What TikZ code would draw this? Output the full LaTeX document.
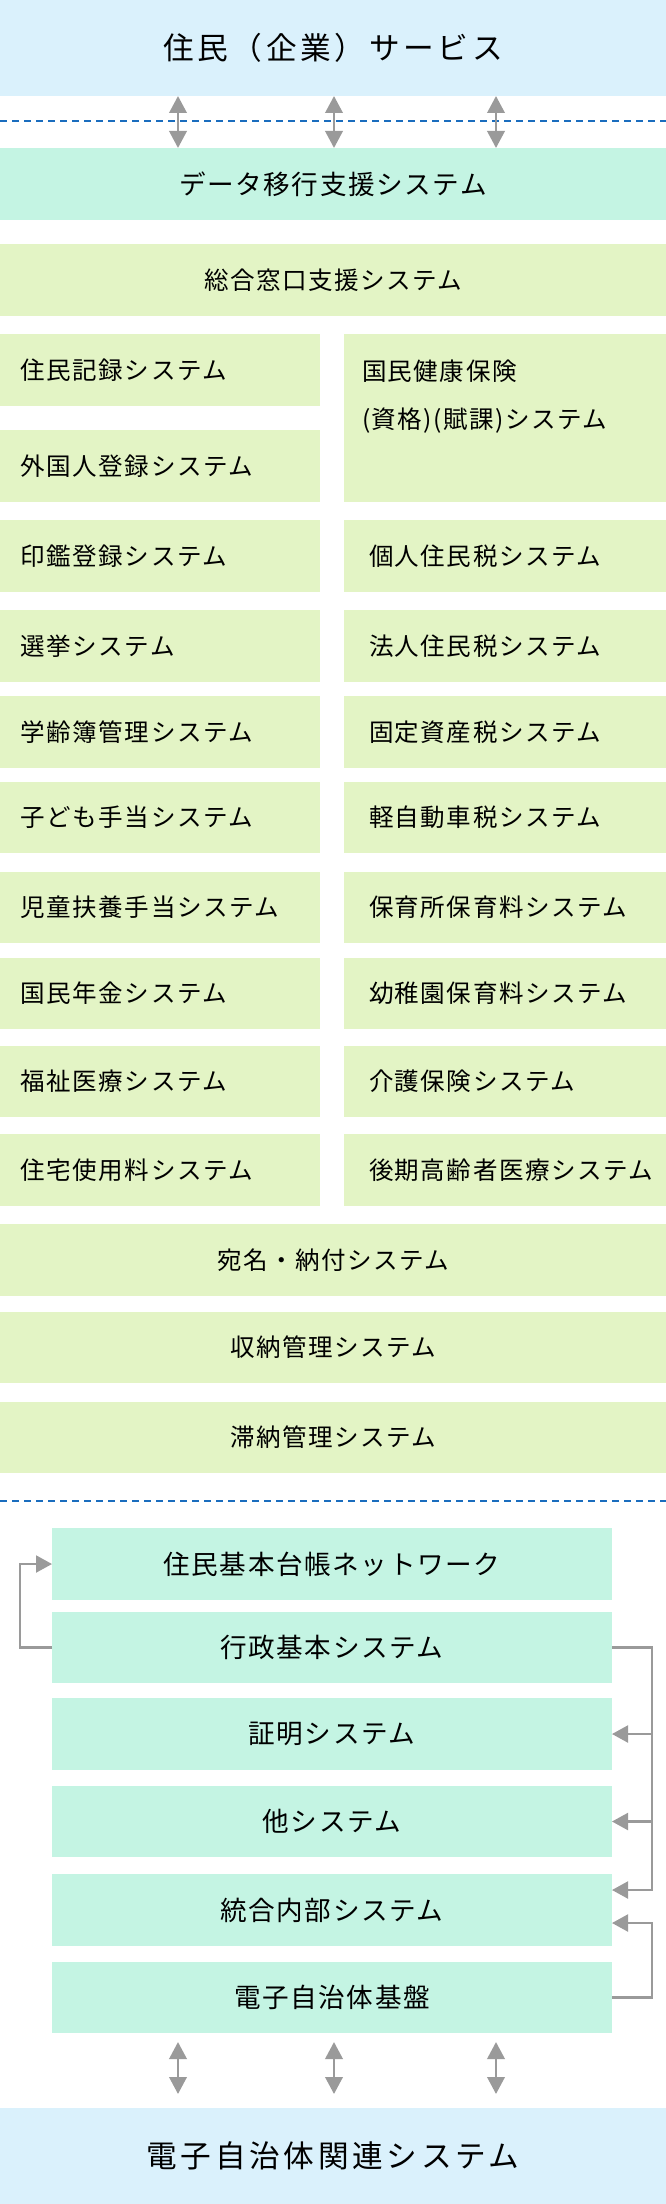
\documentclass[tikz,border=0pt]{standalone}
\usepackage{fontspec}
\setmainfont{Noto Sans CJK JP}
\usetikzlibrary{arrows.meta,calc}
\definecolor{skyblue}{HTML}{DAF1FC}
\definecolor{mint}{HTML}{C4F4E3}
\definecolor{lgreen}{HTML}{E3F4C5}
\definecolor{arrowgray}{HTML}{9A9A9A}
\definecolor{dashblue}{HTML}{1A6DBE}
\newcommand{\pxu}{0.75pt}
\newcommand{\tfont}{\fontsize{23pt}{27pt}\selectfont\addfontfeatures{LetterSpace=12}}
\newcommand{\gfont}{\fontsize{18.4pt}{36pt}\selectfont\addfontfeatures{LetterSpace=6}}
\newcommand{\mfont}{\fontsize{19.95pt}{24pt}\selectfont\addfontfeatures{LetterSpace=6}}
\begin{document}
\begin{tikzpicture}[x=0.75pt,y=-0.75pt,
  base/.style={inner sep=0pt, outer sep=0pt, anchor=north west, text=black},
  titlebox/.style={base, fill=skyblue, minimum width=666*\pxu, minimum height=96*\pxu, font=\tfont},
  databox/.style={base, fill=mint, minimum width=666*\pxu, minimum height=72*\pxu, font=\mfont},
  widebox/.style={base, fill=lgreen, minimum width=666*\pxu, minimum height=72*\pxu, font=\gfont},
  lbox/.style={base, fill=lgreen, minimum width=320*\pxu, minimum height=72*\pxu, text width=278*\pxu, inner xsep=21*\pxu, align=left, font=\gfont},
  rbox/.style={base, fill=lgreen, minimum width=322*\pxu, minimum height=72*\pxu, text width=272*\pxu, inner xsep=25*\pxu, align=left, font=\gfont},
  mbox/.style={base, fill=mint, minimum width=560*\pxu, minimum height=72*\pxu, font=\mfont},
  txt/.style={inner sep=0pt, outer sep=0pt, text=black},
  dbl/.style={draw=arrowgray, line width=2pt, {Triangle[length=12.75pt,width=13pt]}-{Triangle[length=12.75pt,width=13pt]}},
  conn/.style={draw=arrowgray, line width=1.6pt, -{Triangle[length=12pt,width=12.75pt]}},
  sep/.style={draw=dashblue, line width=1.5pt, dash pattern=on 5.25pt off 3.75pt}
]
\useasboundingbox (0,0) rectangle (666,2204);

% top
\node[titlebox] (top) at (0,0) {住民（企業）サービス};
\draw[sep] (0,121) -- (666,121);
\node[databox] (data) at (0,148) {データ移行支援システム};

\coordinate (a1) at (178,0);
\coordinate (a2) at (334,0);
\coordinate (a3) at (496,0);
\draw[dbl] (top.south -| a1) -- (data.north -| a1);
\draw[dbl] (top.south -| a2) -- (data.north -| a2);
\draw[dbl] (top.south -| a3) -- (data.north -| a3);

\node[widebox] (sogo) at (0,244) {総合窓口支援システム};

% two columns
\node[lbox] (jk) at (0,334) {住民記録システム};
\node[lbox] (gk) at (0,430) {外国人登録システム};
\node[base, fill=lgreen, minimum width=322*\pxu, minimum height=168*\pxu] (kh) at (344,334) {};
\node[txt, anchor=north west, align=left, font=\gfont] (kht) at (362,359.5) {国民健康保険\\(資格)(賦課)システム};

\node[lbox] (inkan) at (0,520) {印鑑登録システム};
\node[rbox] (kojin) at (344,520) {個人住民税システム};
\node[lbox] (senkyo) at (0,610) {選挙システム};
\node[rbox] (hojin) at (344,610) {法人住民税システム};
\node[lbox] (gakurei) at (0,696) {学齢簿管理システム};
\node[rbox] (kotei) at (344,696) {固定資産税システム};
\node[lbox, minimum height=71*\pxu] (kodomo) at (0,782) {子ども手当システム};
\node[rbox, minimum height=71*\pxu] (kei) at (344,782) {軽自動車税システム};
\node[lbox, minimum height=71*\pxu] (jido) at (0,872) {児童扶養手当システム};
\node[rbox, minimum height=71*\pxu] (hoiku) at (344,872) {保育所保育料システム};
\node[lbox, minimum height=71*\pxu] (nenkin) at (0,958) {国民年金システム};
\node[rbox, minimum height=71*\pxu] (yochi) at (344,958) {幼稚園保育料システム};
\node[lbox, minimum height=71*\pxu] (fukushi) at (0,1046) {福祉医療システム};
\node[rbox, minimum height=71*\pxu] (kaigo) at (344,1046) {介護保険システム};
\node[lbox] (jutaku) at (0,1134) {住宅使用料システム};
\node[rbox] (koki) at (344,1134) {後期高齢者医療システム};

\node[widebox] (atena) at (0,1224) {宛名・納付システム};
\node[widebox, minimum height=71*\pxu] (shuno) at (0,1312) {収納管理システム};
\node[widebox, minimum height=71*\pxu] (tainou) at (0,1402) {滞納管理システム};

\draw[sep] (0,1501) -- (666,1501);

% lower section
\node[mbox] (juki) at (52,1528) {住民基本台帳ネットワーク};
\node[mbox, minimum height=71*\pxu] (gyosei) at (52,1612) {行政基本システム};
\node[mbox] (shomei) at (52,1698) {証明システム};
\node[mbox, minimum height=71*\pxu] (hoka) at (52,1786) {他システム};
\node[mbox] (togo) at (52,1874) {統合内部システム};
\node[mbox, minimum height=71*\pxu] (denshi) at (52,1962) {電子自治体基盤};

\coordinate (lx) at (20,0);
\coordinate (rx) at (652,0);
\coordinate (tg1) at ($(togo.east)+(0,-20)$);
\coordinate (tg2) at ($(togo.east)+(0,13)$);

\draw[conn] (gyosei.west) -| (lx |- juki.west) -- (juki.west);
\draw[conn] (gyosei.east) -| (tg1 -| rx) -- (tg1);
\draw[conn] (shomei.east -| rx) -- (shomei.east);
\draw[conn] (hoka.east -| rx) -- (hoka.east);
\draw[conn] (denshi.east) -| (tg2 -| rx) -- (tg2);

\node[titlebox] (bottom) at (0,2108) {電子自治体関連システム};

\draw[dbl, shorten <=9*\pxu, shorten >=14*\pxu] (denshi.south -| a1) -- (bottom.north -| a1);
\draw[dbl, shorten <=9*\pxu, shorten >=14*\pxu] (denshi.south -| a2) -- (bottom.north -| a2);
\draw[dbl, shorten <=9*\pxu, shorten >=14*\pxu] (denshi.south -| a3) -- (bottom.north -| a3);
\end{tikzpicture}
\end{document}
